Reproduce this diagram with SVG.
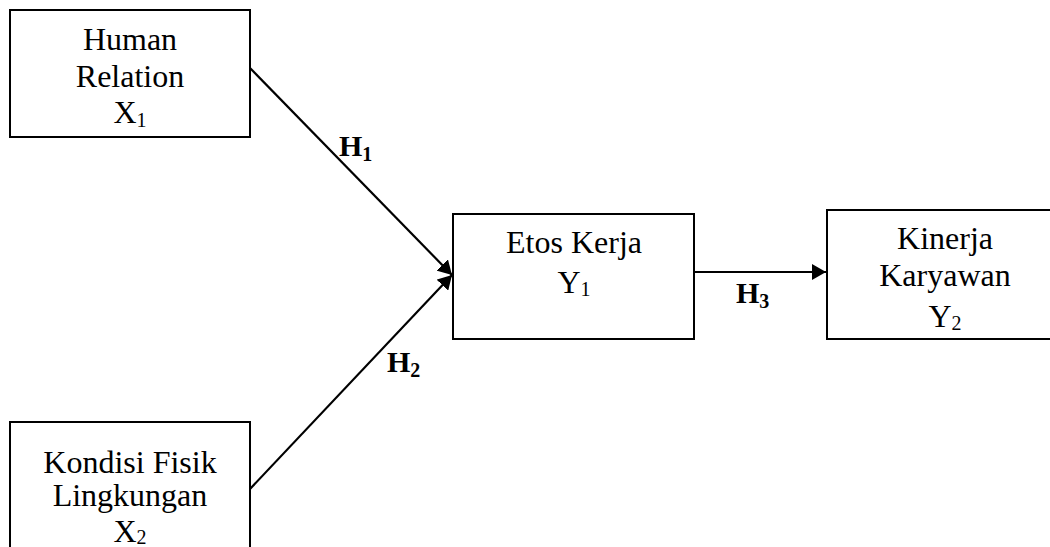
<svg xmlns="http://www.w3.org/2000/svg" width="1050" height="547" viewBox="0 0 1050 547">
<style>
.box{fill:#fff;stroke:#000;stroke-width:2}
.t{font-family:"Liberation Serif","Times New Roman",serif;font-size:32px;fill:#000;text-anchor:middle}
.sub{font-size:20px}
.h{font-family:"Liberation Serif","Times New Roman",serif;font-size:30px;font-weight:bold;fill:#000}
.hs{font-size:20px}
.ln{stroke:#000;stroke-width:2.2;fill:none}
</style>
<defs>
<marker id="arr" viewBox="0 0 14 16" refX="14" refY="8" markerWidth="14" markerHeight="16" markerUnits="userSpaceOnUse" orient="auto">
<path d="M0,0 L14,8 L0,16 Z" fill="#000"/>
</marker>
</defs>
<rect width="1050" height="547" fill="#fff"/>
<g id="connectors">
<line class="ln" x1="250" y1="68" x2="452" y2="275" marker-end="url(#arr)"/>
<line class="ln" x1="250" y1="489" x2="452" y2="275" marker-end="url(#arr)"/>
<line class="ln" x1="694" y1="272" x2="826" y2="272" marker-end="url(#arr)"/>
<text class="h" x="339" y="156">H<tspan class="hs" dy="5">1</tspan></text>
<text class="h" x="387" y="372">H<tspan class="hs" dy="5">2</tspan></text>
<text class="h" x="736" y="303">H<tspan class="hs" dy="5">3</tspan></text>
</g>
<g id="human-relation">
<rect class="box" x="10" y="10" width="240" height="127"/>
<text class="t" x="130" y="50">Human</text>
<text class="t" x="130" y="87">Relation</text>
<text class="t" x="130" y="123">X<tspan class="sub" dy="4">1</tspan></text>
</g>
<g id="kondisi-fisik">
<rect class="box" x="10" y="422" width="240" height="140"/>
<text class="t" x="130" y="473">Kondisi Fisik</text>
<text class="t" x="130" y="506">Lingkungan</text>
<text class="t" x="130" y="542">X<tspan class="sub" dy="2">2</tspan></text>
</g>
<g id="etos-kerja">
<rect class="box" x="453" y="214" width="241" height="125"/>
<text class="t" x="574" y="253">Etos Kerja</text>
<text class="t" x="574" y="293">Y<tspan class="sub" dy="3">1</tspan></text>
</g>
<g id="kinerja-karyawan">
<rect class="box" x="827" y="210" width="237" height="129"/>
<text class="t" x="945" y="249">Kinerja</text>
<text class="t" x="945" y="286">Karyawan</text>
<text class="t" x="945" y="327">Y<tspan class="sub" dy="3">2</tspan></text>
</g>
</svg>
